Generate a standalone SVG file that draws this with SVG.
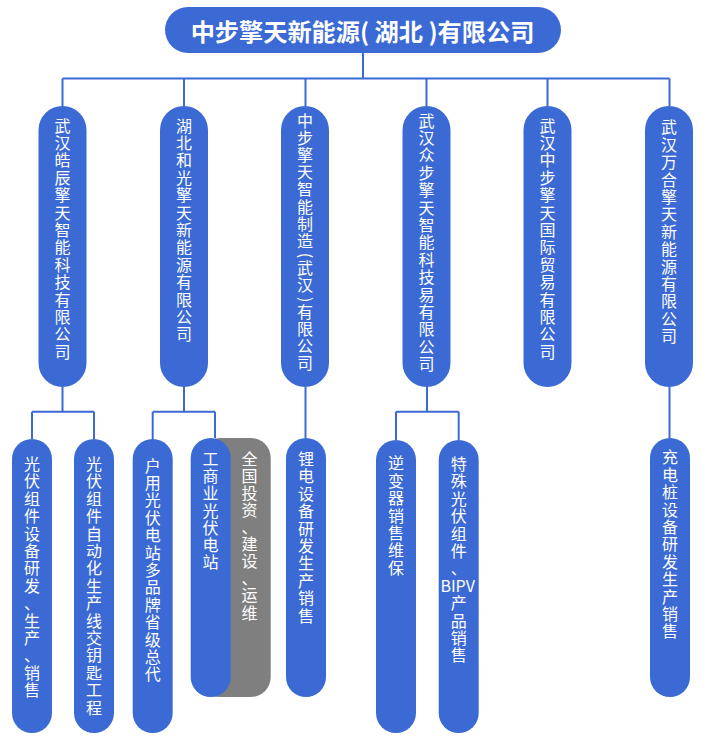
<svg xmlns="http://www.w3.org/2000/svg" width="723" height="750" viewBox="0 0 723 750">
<style>
.bg{fill:#ffffff}
.pill{fill:#3b6ad4}
.gray{fill:#7f7f7f}
.ln{stroke:#3b6ad4;stroke-width:2;fill:none}
.t{font-family:"Noto Sans CJK SC","Noto Sans",sans-serif;font-size:16px;fill:#ffffff;text-anchor:middle}
.title{font-family:"Noto Sans CJK SC","Noto Sans",sans-serif;font-size:24.2px;font-weight:bold;fill:#ffffff;text-anchor:middle}
</style>
<rect class="bg" x="0" y="0" width="723" height="750"/>
<g id="connectors">
<path class="ln" d="M363 53V78.5M62.5 78.5H669.5M62.5 78.5V106M184 78.5V106M305.5 78.5V106M426.5 78.5V106M547.5 78.5V106M669.5 78.5V106"/>
<path class="ln" d="M62.5 387V411.7M32 411.7H94M32 411.7V439M94 411.7V439"/>
<path class="ln" d="M184 387V411.7M152.7 411.7H215M152.7 411.7V439M215 411.7V438"/>
<path class="ln" d="M305.5 387V438"/>
<path class="ln" d="M427 387V411.7M396 411.7H458.7M396 411.7V440M458.7 411.7V440"/>
<path class="ln" d="M669.5 387V438"/>
</g>
<g id="root">
<rect class="pill" x="165" y="7" width="396" height="46" rx="23"/>
<text class="title" x="362.5" y="41.3">中步擎天新能源( 湖北 )有限公司</text>
</g>
<g id="n1">
<rect class="pill" x="38.5" y="106" width="48" height="281" rx="24"/>
<text class="t" x="62.5 62.5 62.5 62.5 62.5 62.5 62.5 62.5 62.5 62.5 62.5 62.5 62.5 62.5" y="131.6" dy="0 17.4 17.4 17.4 17.4 17.4 17.4 17.4 17.4 17.4 17.4 17.4 17.4 17.4">武汉皓辰擎天智能科技有限公司</text>
</g>
<g id="n2">
<rect class="pill" x="160" y="106" width="48" height="281" rx="24"/>
<text class="t" x="184 184 184 184 184 184 184 184 184 184 184 184 184" y="131.6" dy="0 17.4 17.4 17.4 17.4 17.4 17.4 17.4 17.4 17.4 17.4 17.4 17.4">湖北和光擎天新能源有限公司</text>
</g>
<g id="n3">
<rect class="pill" x="281" y="106" width="48" height="281" rx="24"/>
<text class="t" x="305 305 305 305 305 305 305 305 302.6 305 305 302.6 305 305 305 305" y="126.6 143.8 161 178.2 195.4 212.6 229.8 247 252.7 273.7 290.9 297.1 317.6 334.8 352 369.2" rotate="0 0 0 0 0 0 0 0 90 0 0 90 0">中步擎天智能制造(武汉)有限公司</text>
</g>
<g id="n4">
<rect class="pill" x="402.5" y="106" width="48" height="281" rx="24"/>
<text class="t" x="426.5 426.5 426.5 426.5 426.5 426.5 426.5 426.5 426.5 426.5 426.5 426.5 426.5 426.5 426.5" y="126.6" dy="0 17.4 17.4 17.4 17.4 17.4 17.4 17.4 17.4 17.4 17.4 17.4 17.4 17.4 17.4">武汉众步擎天智能科技易有限公司</text>
</g>
<g id="n5">
<rect class="pill" x="523.5" y="106" width="48" height="281" rx="24"/>
<text class="t" x="547.5 547.5 547.5 547.5 547.5 547.5 547.5 547.5 547.5 547.5 547.5 547.5 547.5 547.5" y="131.6" dy="0 17.4 17.4 17.4 17.4 17.4 17.4 17.4 17.4 17.4 17.4 17.4 17.4 17.4">武汉中步擎天国际贸易有限公司</text>
</g>
<g id="n6">
<rect class="pill" x="645" y="106" width="48" height="281" rx="24"/>
<text class="t" x="669 669 669 669 669 669 669 669 669 669 669 669 669" y="133.3" dy="0 17.4 17.4 17.4 17.4 17.4 17.4 17.4 17.4 17.4 17.4 17.4 17.4">武汉万合擎天新能源有限公司</text>
</g>
<g id="n1a">
<rect class="pill" x="12" y="439" width="40" height="294" rx="20"/>
<text class="t" x="32 32 32 32 32 32 32 32 32 32 32 32 32 32" y="470" dy="0 17.4 17.4 17.4 17.4 17.4 17.4 17.4 17.4 17.4 17.4 17.4 17.4 17.4">光伏组件设备研发、生产、销售</text>
</g>
<g id="n1b">
<rect class="pill" x="74" y="439" width="40" height="294" rx="20"/>
<text class="t" x="94 94 94 94 94 94 94 94 94 94 94 94 94 94 94" y="470" dy="0 17.4 17.4 17.4 17.4 17.4 17.4 17.4 17.4 17.4 17.4 17.4 17.4 17.4 17.4">光伏组件自动化生产线交钥匙工程</text>
</g>
<g id="n2a">
<rect class="pill" x="132.7" y="439" width="40" height="294" rx="20"/>
<text class="t" x="152.7 152.7 152.7 152.7 152.7 152.7 152.7 152.7 152.7 152.7 152.7 152.7 152.7" y="471.6" dy="0 17.4 17.4 17.4 17.4 17.4 17.4 17.4 17.4 17.4 17.4 17.4 17.4">户用光伏电站多品牌省级总代</text>
</g>
<g id="n2b">
<rect class="gray" x="200" y="438" width="70.7" height="259" rx="20"/>
<rect class="pill" x="190.7" y="438" width="40" height="259" rx="20"/>
<text class="t" x="210.5 210.5 210.5 210.5 210.5 210.5 210.5" y="465.2" dy="0 17.1 17.1 17.1 17.1 17.1 17.1">工商业光伏电站</text>
<text class="t" x="249.5 249.5 249.5 249.5 249.5 249.5 249.5 249.5 249.5 249.5" y="464.6" dy="0 17.1 17.1 17.1 17.1 17.1 17.1 17.1 17.1 17.1">全国投资、建设、运维</text>
</g>
<g id="n3a">
<rect class="pill" x="286" y="438" width="40" height="259" rx="20"/>
<text class="t" x="306 306 306 306 306 306 306 306 306 306" y="465" dy="0 17.4 17.4 17.4 17.4 17.4 17.4 17.4 17.4 17.4">锂电设备研发生产销售</text>
</g>
<g id="n4a">
<rect class="pill" x="376" y="440" width="40" height="293" rx="20"/>
<text class="t" x="396 396 396 396 396 396 396" y="469.3" dy="0 17.4 17.4 17.4 17.4 17.4 17.4">逆变器销售维保</text>
</g>
<g id="n4b">
<rect class="pill" x="438.7" y="440" width="40" height="293" rx="20"/>
<text class="t" x="458.7 458.7 458.7 458.7 458.7 458.7 458.7" y="470 487.4 504.8 522.2 539.6 557 574.4">特殊光伏组件、<tspan x="457.7" y="591.8">BIPV</tspan><tspan x="458.7 458.7 458.7 458.7" y="609.2 626.6 644 661.4">产品销售</tspan></text>
</g>
<g id="n6a">
<rect class="pill" x="650" y="438" width="40" height="259" rx="20"/>
<text class="t" x="670 670 670 670 670 670 670 670 670 670 670" y="463.3" dy="0 17.4 17.4 17.4 17.4 17.4 17.4 17.4 17.4 17.4 17.4">充电桩设备研发生产销售</text>
</g>
</svg>
